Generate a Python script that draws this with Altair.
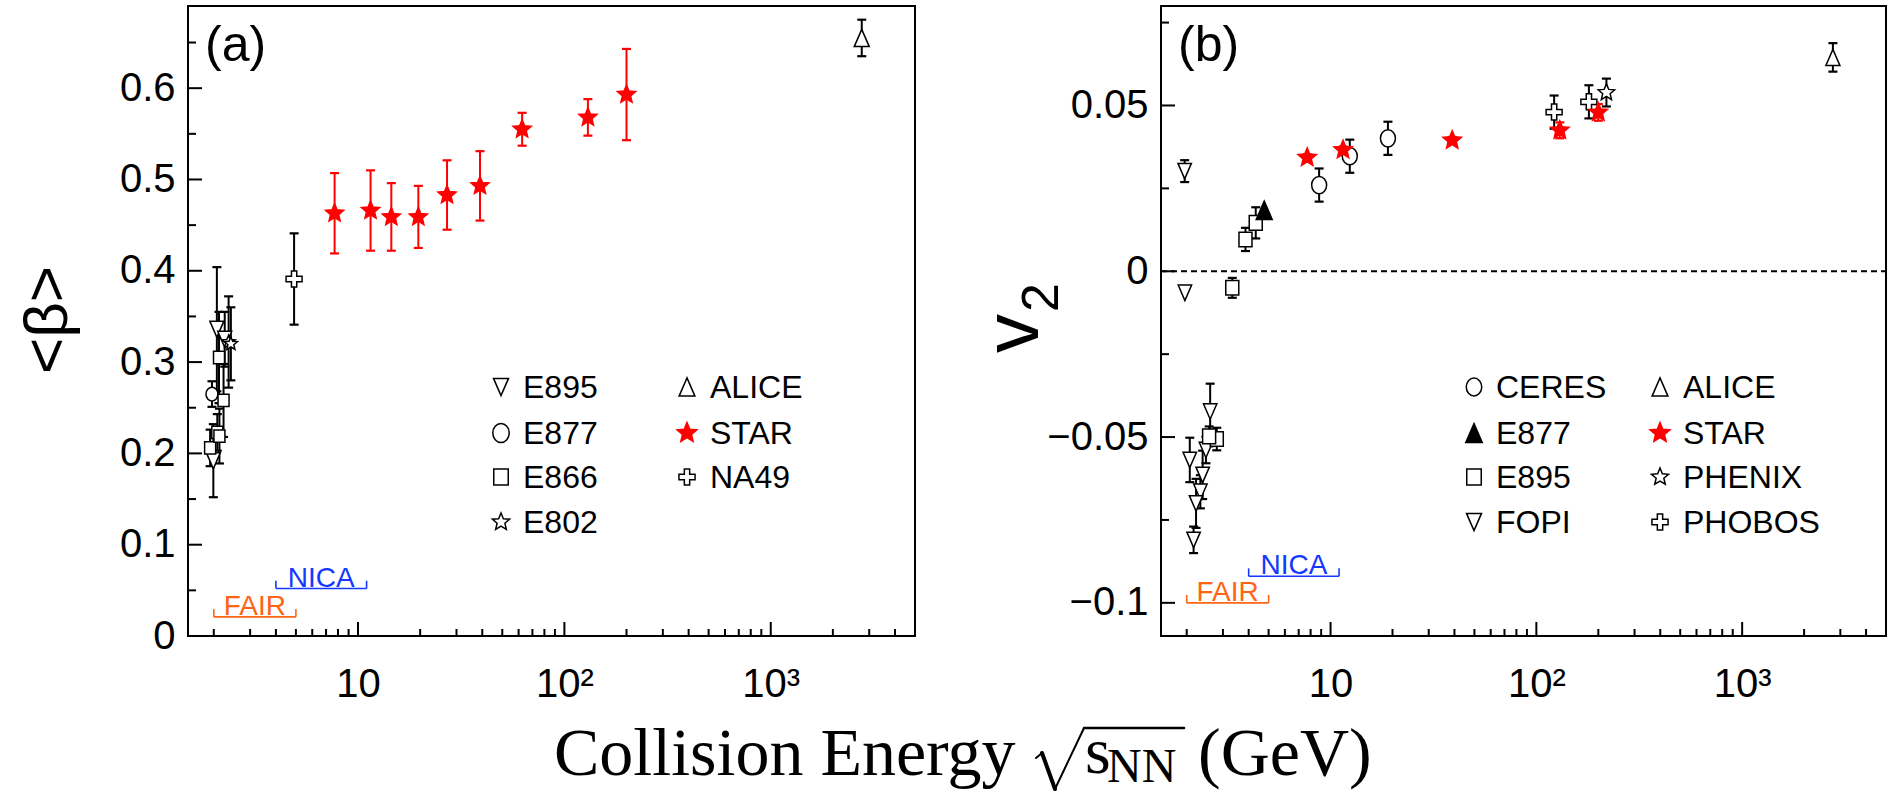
import math
import altair as alt
import pandas as pd

# ------------------------------------------------------------------
# Panel (a): <beta> versus collision energy
# ------------------------------------------------------------------
A_E895_E = [2.07, 1.99, 2.26]
A_E895_Y = [0.336, 0.192, 0.325]
A_E895_ERR = [0.068, 0.040, 0.030]

A_E877_E = [1.96]
A_E877_Y = [0.265]
A_E877_ERR = [0.014]

A_E866_E = [1.92, 2.08, 2.13, 2.23, 2.12]
A_E866_Y = [0.206, 0.223, 0.219, 0.258, 0.305]
A_E866_ERR = [0.020, 0.020, 0.030, 0.040, 0.050]

A_E802_E = [2.36, 2.42]
A_E802_Y = [0.322, 0.320]
A_E802_ERR = [0.050, 0.040]

A_ALICE_E = [2760]
A_ALICE_Y = [0.655]
A_ALICE_ERR = [0.020]

A_STAR_E = [7.7, 11.5, 14.5, 19.6, 27, 39, 62.4, 130, 200]
A_STAR_Y = [0.463, 0.466, 0.459, 0.459, 0.483, 0.493, 0.555, 0.568, 0.593]
A_STAR_ERR = [0.044, 0.044, 0.037, 0.034, 0.038, 0.038, 0.018, 0.020, 0.050]

A_NA49_E = [4.9]
A_NA49_Y = [0.391]
A_NA49_ERR = [0.050]

# ------------------------------------------------------------------
# Panel (b): v2 versus collision energy
# ------------------------------------------------------------------
B_CERES_E = [8.8, 12.4, 19.0]
B_CERES_Y = [0.0260, 0.0347, 0.0401]
B_CERES_ERR = [0.0050, 0.0050, 0.0050]

B_E877_E = [4.76]
B_E877_Y = [0.0184]
B_E877_ERR = [0.0]

B_E895_E = [3.33, 3.86, 4.33, 2.80, 2.57]
B_E895_Y = [-0.0050, 0.0096, 0.0146, -0.0506, -0.0498]
B_E895_ERR = [0.0030, 0.0035, 0.0047, 0.0034, 0.0030]

B_FOPI_E = [1.955, 1.96, 2.60, 2.07, 2.48, 2.39, 2.33, 2.22, 2.16]
B_FOPI_Y = [0.0302, -0.0065, -0.0423, -0.0569, -0.0539, -0.0614, -0.0665, -0.0700, -0.0810]
B_FOPI_ERR = [0.0033, 0.0, 0.0084, 0.0067, 0.0040, 0.0073, 0.0050, 0.0074, 0.0040]

B_ALICE_E = [2760]
B_ALICE_Y = [0.0645]
B_ALICE_ERR = [0.0043]

B_STAR_E = [7.7, 11.5, 39, 130, 200]
B_STAR_Y = [0.0343, 0.0366, 0.0395, 0.0425, 0.0479]
B_STAR_ERR = [0.0010, 0.0010, 0.0010, 0.0024, 0.0025]

B_PHENIX_E = [219]
B_PHENIX_Y = [0.0539]
B_PHENIX_ERR = [0.0042]

B_PHOBOS_E = [122, 180]
B_PHOBOS_Y = [0.0480, 0.0511]
B_PHOBOS_ERR = [0.0050, 0.0050]

# facility energy ranges (GeV)
FACILITY = ["FAIR", "NICA"]
FACILITY_LO = [2.0, 4.0]
FACILITY_HI = [5.0, 11.0]
A_FACILITY_LEVEL = [0.021, 0.052]
B_FACILITY_LEVEL = [-0.100, -0.092]

# axis ticks / labels
X_MAJOR = [10, 100, 1000]
X_MINOR = [2, 3, 4, 5, 6, 7, 8, 9, 20, 30, 40, 50, 60, 70, 80, 90,
           200, 300, 400, 500, 600, 700, 800, 900, 2000, 3000, 4000]
A_Y_MAJOR = [0, 0.1, 0.2, 0.3, 0.4, 0.5, 0.6]
A_Y_MINOR = [0.05, 0.15, 0.25, 0.35, 0.45, 0.55, 0.65]
B_Y_MAJOR = [-0.1, -0.05, 0, 0.05]
B_Y_MINOR = [-0.075, -0.025, 0.025, 0.075]

# ------------------------------------------------------------------
# styles
# ------------------------------------------------------------------
SANS = "Liberation Sans, Arial, Helvetica, sans-serif"
SERIF = "Liberation Serif, Times New Roman, serif"
RED = "#ff0000"
NICA_BLUE = "#1438ff"
FAIR_ORANGE = "#ff6414"
FAC_COLOR = {"FAIR": FAIR_ORANGE, "NICA": NICA_BLUE}

TRI_DOWN = "M-1,-1.15L1,-1.15L0,1.15Z"
TRI_UP = "M0,-1.15L1,1.15L-1,1.15Z"
ELLIPSE = "M-1,0A1,1.15,0,1,1,1,0A1,1.15,0,1,1,-1,0Z"
RECT = "M-1,-1.12L1,-1.12L1,1.12L-1,1.12Z"
PLUS = ("M-0.33,-1L0.33,-1L0.33,-0.33L1,-0.33L1,0.33L0.33,0.33L0.33,1"
        "L-0.33,1L-0.33,0.33L-1,0.33L-1,-0.33L-0.33,-0.33Z")
STAR = ("M0,-1L0.2645,-0.3641L0.9511,-0.309L0.428,0.139L0.5878,0.809"
        "L0,0.45L-0.5878,0.809L-0.428,0.139L-0.9511,-0.309L-0.2645,-0.3641Z")

STYLE_A = {
    "E895": dict(shape=TRI_DOWN, fill="white", stroke="black", size=196, lsize=225),
    "E877": dict(shape=ELLIPSE, fill="white", stroke="black", size=144, lsize=270),
    "E866": dict(shape=RECT, fill="white", stroke="black", size=121, lsize=210),
    "E802": dict(shape=STAR, fill="white", stroke="black", size=190, lsize=330),
    "ALICE": dict(shape=TRI_UP, fill="white", stroke="black", size=225, lsize=250),
    "STAR": dict(shape=STAR, fill=RED, stroke=RED, size=360, lsize=440),
    "NA49": dict(shape=PLUS, fill="white", stroke="black", size=256, lsize=260),
}
STYLE_B = {
    "CERES": dict(shape=ELLIPSE, fill="white", stroke="black", size=225, lsize=240),
    "E877": dict(shape=TRI_UP, fill="black", stroke="black", size=256, lsize=270),
    "E895": dict(shape=RECT, fill="white", stroke="black", size=169, lsize=210),
    "FOPI": dict(shape=TRI_DOWN, fill="white", stroke="black", size=180, lsize=225),
    "ALICE": dict(shape=TRI_UP, fill="white", stroke="black", size=196, lsize=250),
    "STAR": dict(shape=STAR, fill=RED, stroke=RED, size=370, lsize=440),
    "PHENIX": dict(shape=STAR, fill="white", stroke="black", size=300, lsize=320),
    "PHOBOS": dict(shape=PLUS, fill="white", stroke="black", size=256, lsize=260),
}

SERIES_A = {
    "E895": (A_E895_E, A_E895_Y, A_E895_ERR),
    "E877": (A_E877_E, A_E877_Y, A_E877_ERR),
    "E866": (A_E866_E, A_E866_Y, A_E866_ERR),
    "E802": (A_E802_E, A_E802_Y, A_E802_ERR),
    "NA49": (A_NA49_E, A_NA49_Y, A_NA49_ERR),
    "STAR": (A_STAR_E, A_STAR_Y, A_STAR_ERR),
    "ALICE": (A_ALICE_E, A_ALICE_Y, A_ALICE_ERR),
}
SERIES_B = {
    "FOPI": (B_FOPI_E, B_FOPI_Y, B_FOPI_ERR),
    "E895": (B_E895_E, B_E895_Y, B_E895_ERR),
    "E877": (B_E877_E, B_E877_Y, B_E877_ERR),
    "CERES": (B_CERES_E, B_CERES_Y, B_CERES_ERR),
    "PHOBOS": (B_PHOBOS_E, B_PHOBOS_Y, B_PHOBOS_ERR),
    "PHENIX": (B_PHENIX_E, B_PHENIX_Y, B_PHENIX_ERR),
    "STAR": (B_STAR_E, B_STAR_Y, B_STAR_ERR),
    "ALICE": (B_ALICE_E, B_ALICE_Y, B_ALICE_ERR),
}

LEGEND_A = [["E895", "E877", "E866", "E802"], ["ALICE", "STAR", "NA49"]]
LEGEND_B = [["CERES", "E877", "E895", "FOPI"], ["ALICE", "STAR", "PHENIX", "PHOBOS"]]

W_A, W_B, H = 727, 725, 630
X_DOMAIN = [1.5, 5000]

# ------------------------------------------------------------------
def one():
    return pd.DataFrame({"k": [0]})


def build_frame(series, style):
    rows = []
    for name, (es, ys, errs) in series.items():
        st = style[name]
        for e, y, er in zip(es, ys, errs):
            rows.append(dict(series=name, E=e, v=y, lo=y - er, hi=y + er, err=er,
                             shape=st["shape"], fill=st["fill"], stroke=st["stroke"],
                             size=st["size"]))
    return pd.DataFrame(rows)


def text_layer(text, x, y, size, font=SANS, color="black", align="left",
               baseline="alphabetic", angle=None):
    kw = dict(text=text, font=font, fontSize=size, color=color, align=align,
              baseline=baseline)
    if angle is not None:
        kw["angle"] = angle
    return alt.Chart(one()).mark_text(**kw).encode(x=alt.value(x), y=alt.value(y))


def seg(x1, y1, x2, y2, w):
    return alt.Chart(one()).mark_rule(color="black", strokeWidth=w,
                                      strokeCap="round").encode(
        x=alt.value(x1), y=alt.value(y1), x2=alt.value(x2), y2=alt.value(y2))


def panel(series, style, legend, width, ydomain, ymajor, yminor, levels,
          bracket_h, tag):
    xscale = alt.Scale(type="log", domain=X_DOMAIN, nice=False)
    xaxis = alt.Axis(values=X_MAJOR,
                     labelExpr="datum.value == 10 ? '10' : datum.value == 100 ? '10\u00b2' : '10\u00b3'",
                     tickSize=0, domain=False, grid=False, labelFont=SANS,
                     labelFontSize=40, labelPadding=28, labelColor="black",
                     labelFlush=False, labelOverlap=False, title=None)
    yscale = alt.Scale(domain=ydomain, nice=False, zero=False)
    yaxis = alt.Axis(values=ymajor, format="~g", tickSize=0, domain=False, grid=False,
                     labelFont=SANS, labelFontSize=40, labelPadding=13,
                     labelColor="black", labelOverlap=False, title=None)

    def X(f):
        return alt.X(f, type="quantitative", scale=xscale, axis=xaxis)

    def Y(f):
        return alt.Y(f, type="quantitative", scale=yscale, axis=yaxis)

    df = build_frame(series, style)
    dfe = df[df["err"] > 0]
    layers = []

    # inner ticks on the bottom and left edges
    layers.append(alt.Chart(pd.DataFrame({"t": X_MAJOR})).mark_rule(
        color="black", strokeWidth=2).encode(x=X("t"), y=alt.value(H), y2=alt.value(H - 14)))
    layers.append(alt.Chart(pd.DataFrame({"t": X_MINOR})).mark_rule(
        color="black", strokeWidth=2).encode(x=X("t"), y=alt.value(H), y2=alt.value(H - 7)))
    layers.append(alt.Chart(pd.DataFrame({"t": ymajor})).mark_rule(
        color="black", strokeWidth=2).encode(y=Y("t"), x=alt.value(0), x2=alt.value(14)))
    layers.append(alt.Chart(pd.DataFrame({"t": yminor})).mark_rule(
        color="black", strokeWidth=2).encode(y=Y("t"), x=alt.value(0), x2=alt.value(8)))

    if tag == "(b)":
        layers.append(alt.Chart(pd.DataFrame({"z": [0.0]})).mark_rule(
            color="black", strokeWidth=2, strokeDash=[6, 4]).encode(
            y=Y("z"), x=alt.value(0), x2=alt.value(width)))

    # facility brackets
    fac = pd.DataFrame({"name": FACILITY, "lo": FACILITY_LO, "hi": FACILITY_HI,
                        "lev": levels})
    fac["top"] = fac["lev"] + bracket_h
    fac["mid"] = [math.sqrt(a * b) for a, b in zip(FACILITY_LO, FACILITY_HI)]
    fac["col"] = [FAC_COLOR[n] for n in FACILITY]
    fcol = alt.Color("col:N", scale=None)
    layers.append(alt.Chart(fac).mark_rule(strokeWidth=1.6).encode(
        x=X("lo"), x2=alt.X2("hi:Q"), y=Y("lev"), color=fcol))
    layers.append(alt.Chart(fac).mark_rule(strokeWidth=1.6).encode(
        x=X("lo"), y=Y("lev"), y2=alt.Y2("top:Q"), color=fcol))
    layers.append(alt.Chart(fac).mark_rule(strokeWidth=1.6).encode(
        x=X("hi"), y=Y("lev"), y2=alt.Y2("top:Q"), color=fcol))
    layers.append(alt.Chart(fac).mark_text(font=SANS, fontSize=28, align="center",
                                           baseline="alphabetic", dy=-2).encode(
        x=X("mid"), y=Y("lev"), text="name:N", color=fcol))

    # error bars with caps
    ecol = alt.Color("stroke:N", scale=None)
    layers.append(alt.Chart(dfe).mark_rule(strokeWidth=2).encode(
        x=X("E"), y=Y("lo"), y2=alt.Y2("hi:Q"), color=ecol))
    for f in ("lo", "hi"):
        layers.append(alt.Chart(dfe).mark_tick(orient="horizontal", size=9,
                                               thickness=2.2, opacity=1).encode(
            x=X("E"), y=Y(f), color=ecol))

    # markers
    layers.append(alt.Chart(df).mark_point(opacity=1, strokeWidth=1.5).encode(
        x=X("E"), y=Y("v"),
        shape=alt.Shape("shape:N", scale=None),
        fill=alt.Fill("fill:N", scale=None),
        stroke=alt.Stroke("stroke:N", scale=None),
        size=alt.Size("size:Q", scale=None)))

    # legend (two columns)
    col_marker = [313, 499]
    col_text = [335, 522]
    row_y = [381, 427, 471, 516]
    for c, names in enumerate(legend):
        for r, name in enumerate(names):
            st = style[name]
            layers.append(alt.Chart(one()).mark_point(
                opacity=1, strokeWidth=1.5, shape=st["shape"], fill=st["fill"],
                stroke=st["stroke"], size=st["lsize"]).encode(
                x=alt.value(col_marker[c]), y=alt.value(row_y[r])))
            layers.append(text_layer(name, col_text[c], row_y[r] + 11, 32))

    # panel tag
    layers.append(text_layer(tag, 17, 55, 50))
    return layers


layers_a = panel(SERIES_A, STYLE_A, LEGEND_A, W_A, [0, 0.69], A_Y_MAJOR, A_Y_MINOR,
                 A_FACILITY_LEVEL, 0.0085, "(a)")
layers_b = panel(SERIES_B, STYLE_B, LEGEND_B, W_B, [-0.11, 0.08], B_Y_MAJOR, B_Y_MINOR,
                 B_FACILITY_LEVEL, 0.0024, "(b)")

# y titles
layers_a.append(text_layer("<\u03b2>", -140, 314, 62, align="center",
                           baseline="middle", angle=270))
layers_b.append(text_layer("v", -123, 347, 78, angle=270))
layers_b.append(text_layer("2", -103, 306, 52, angle=270))

# shared x title (placed relative to panel (a))
layers_a.append(text_layer("Collision Energy", 366, 769, 68, font=SERIF))
# radical sign drawn as strokes, joined to the overline
layers_a.append(seg(848, 752, 854, 747, 2))
layers_a.append(seg(854, 747, 867, 783, 4))
layers_a.append(seg(867, 783, 896, 722, 2))
layers_a.append(seg(896, 722, 996, 722, 2.5))
layers_a.append(text_layer("s", 897, 767, 66, font=SERIF))
layers_a.append(text_layer("NN", 919, 776, 48, font=SERIF))
layers_a.append(text_layer("(GeV)", 1010, 769, 68, font=SERIF))

# invisible anchor fixing the left edge of the page layout
layers_a.append(alt.Chart(one()).mark_rule(strokeOpacity=0, strokeWidth=1).encode(
    x=alt.value(-186.5), y=alt.value(300), y2=alt.value(310)))

chart_a = alt.layer(*layers_a).properties(width=W_A, height=H)
chart_b = alt.layer(*layers_b).properties(width=W_B, height=H)

chart = alt.hconcat(chart_a, chart_b, spacing=246, bounds="flush").properties(
    padding={"left": 0, "top": 5, "right": 0, "bottom": 0}
).configure_view(stroke="black", strokeWidth=2)

chart.save("out.html", embed_options={"renderer": "svg", "actions": False})
